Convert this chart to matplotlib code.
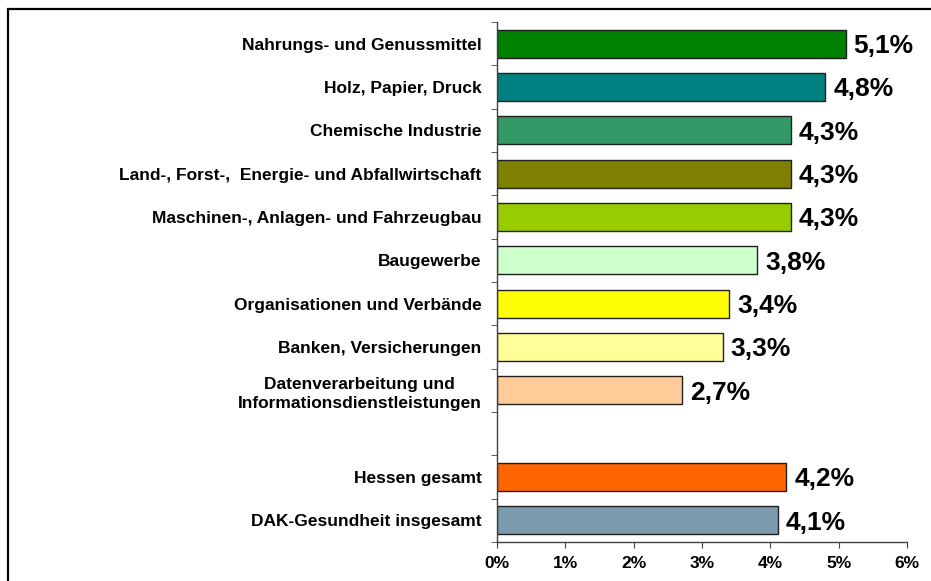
import numpy as np
import matplotlib
matplotlib.use("Agg")
import matplotlib.pyplot as plt
from matplotlib.patches import Rectangle

plt.rcParams['font.family'] = ['Liberation Sans', 'DejaVu Sans']

categories = [
    "Nahrungs- und Genussmittel",
    "Holz, Papier, Druck",
    "Chemische Industrie",
    "Land-, Forst-,  Energie- und Abfallwirtschaft",
    "Maschinen-, Anlagen- und Fahrzeugbau",
    "Baugewerbe",
    "Organisationen und Verbände",
    "Banken, Versicherungen",
    "Datenverarbeitung und\nInformationsdienstleistungen",
    "",
    "Hessen gesamt",
    "DAK-Gesundheit insgesamt",
]
values = [5.1, 4.8, 4.3, 4.3, 4.3, 3.8, 3.4, 3.3, 2.7, None, 4.23, 4.11]
colors = ["#008000", "#008080", "#339966", "#808000", "#99CC00", "#CCFFCC",
          "#FFFF00", "#FFFF99", "#FFCC99", "none", "#FF6600", "#7B9AAC"]
xticks = [0, 1, 2, 3, 4, 5, 6]

W, H = 931, 581
fig = plt.figure(figsize=(W / 100, H / 100), dpi=100)
ax = fig.add_axes([497 / W, 1 - 542 / H, (907 - 497) / W, (542 - 22) / H])

ypos = np.arange(len(categories))
for y, v, c in zip(ypos, values, colors):
    if v is None:
        continue
    ax.barh(y, v, height=0.65, color=c, edgecolor="#202020", linewidth=1)
    ax.text(v + 0.12, y + 0.05, f"{v:.1f}%".replace(".", ","), va="center", ha="left",
            fontsize=19, fontweight="bold")

ax.set_ylim(len(categories) - 0.5, -0.5)
ax.set_xlim(0, 6)
ax.set_yticks(ypos)
ax.set_yticklabels(categories, fontsize=12.5, fontweight="bold", ha="right",
                   multialignment="center", linespacing=1.35)
ax.tick_params(axis="y", which="major", length=0, pad=11)
ax.set_yticks(np.arange(-0.5, len(categories), 1), minor=True)
ax.tick_params(axis="y", which="minor", length=4, color="#404040")
ax.set_xticks(xticks)
ax.set_xticklabels([f"{t}%" for t in xticks], fontsize=12.5, fontweight="bold")
ax.tick_params(axis="x", length=4, color="#404040", pad=6)

for s in ["top", "right"]:
    ax.spines[s].set_visible(False)
for s in ["left", "bottom"]:
    ax.spines[s].set_color("#404040")
    ax.spines[s].set_linewidth(1)

fig.patches.append(Rectangle((8 / W, -0.5), 2, 0.5 + 1 - 9 / H, fill=False,
                             edgecolor="black", linewidth=1.6,
                             transform=fig.transFigure, clip_on=False))

fig.savefig("out.png", dpi=100)
